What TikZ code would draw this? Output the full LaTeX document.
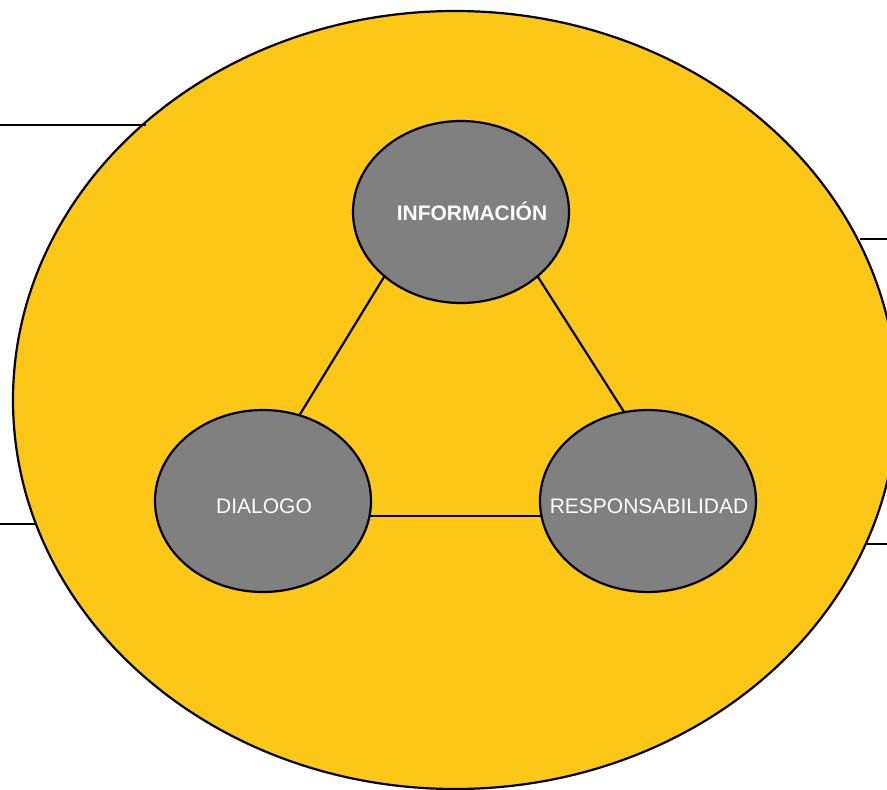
\documentclass[tikz,border=0pt]{standalone}
\usepackage{fontspec}
\setmainfont{Liberation Sans}
\usetikzlibrary{shapes.geometric}
\definecolor{fieldyellow}{RGB}{252,199,22}
\definecolor{bubblegrey}{RGB}{128,128,128}
\begin{document}
\begin{tikzpicture}[x=1pt, y=-1pt,
    field/.style = {draw, ellipse, fill=fieldyellow, line width=2.2pt, outer sep=0pt, inner sep=0pt, minimum width=884pt, minimum height=778pt},
    bubble/.style = {draw, ellipse, fill=bubblegrey, line width=2.2pt, outer sep=0pt, inner sep=0pt, minimum width=216pt, minimum height=182pt},
    word/.style = {text=white, font=\fontsize{21}{25}\selectfont, anchor=base, inner sep=0pt},
    wire/.style = {line width=2.2pt}]
    \useasboundingbox (0,0) rectangle (887,790);
    \clip (0,0) rectangle (887,790);

    \node[field] (field) at (455,400) {};

    \coordinate (lt) at (0,125);
    \coordinate (lb) at (0,524);
    \coordinate (rt) at (887,239);
    \coordinate (rb) at (887,544);
    \draw [wire] (lt) -- (lt -| field.138.66);
    \draw [wire] (lb) -- (lb -| field.196.5);
    \draw [wire] (rt) -- (rt -| field.21.8);
    \draw [wire] (rb) -- (rb -| field.-19.3);

    \node[bubble] (info) at (461,212) {};
    \node[bubble] (dialogo) at (263,501) {};
    \node[bubble] (resp) at (648,501) {};

    \node[word] (infotext) at (472,220) {\bfseries INFORMACIÓN};
    \node[word] (dialogotext) at (264,513) {DIALOGO};
    \node[word] (resptext) at (649,513) {RESPONSABILIDAD};

    \draw [wire] (info.220) -- (dialogo.67.7);
    \draw [wire] (info.320.7) -- (resp.105);
    \draw [wire] (dialogo.-8.4) -- (resp.188.5);

\end{tikzpicture}
\end{document}
